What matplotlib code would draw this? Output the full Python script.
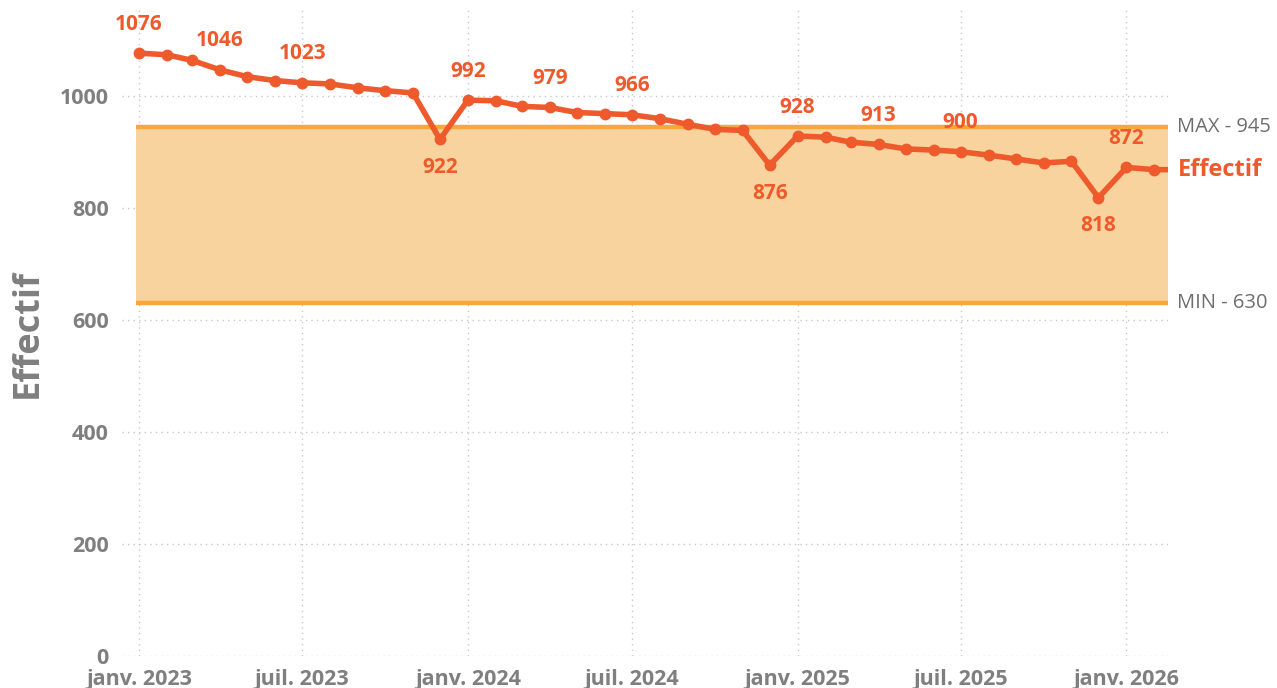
import pandas as pd
import matplotlib
matplotlib.use('Agg')
import matplotlib.pyplot as plt

plt.rcParams['font.family'] = ['Open Sans', 'DejaVu Sans']

# Monthly headcount, janv. 2023 -> mars 2026 (last one is cut by the axis)
months = pd.date_range('2023-01-01', '2026-03-01', freq='MS')
effectif = [1076, 1073, 1063, 1046, 1034, 1027, 1023, 1021, 1014, 1009, 1005, 922,
            992, 991, 981, 979, 970, 968, 966, 959, 949, 940, 938, 876,
            928, 926, 917, 913, 905, 903, 900, 894, 887, 880, 883, 818,
            872, 868, 868]
labelled = ['2023-01', '2023-04', '2023-07', '2023-12', '2024-01', '2024-04', '2024-07',
            '2024-12', '2025-01', '2025-04', '2025-07', '2025-12', '2026-01']
band_min = 630
band_max = 945
y_ticks = [0, 200, 400, 600, 800, 1000]
x_ticks = pd.date_range('2023-01-01', '2026-01-01', freq='6MS')
x_tick_labels = ['janv. 2023', 'juil. 2023', 'janv. 2024', 'juil. 2024',
                 'janv. 2025', 'juil. 2025', 'janv. 2026']

orange = '#EE5A2B'
band_line = '#F6A83A'
band_fill = '#F8D39D'
grey = '#7F7F7F'

df = pd.DataFrame({'mois': months, 'effectif': effectif})

fig = plt.figure(figsize=(12.77, 6.88), dpi=100)
ax = fig.add_axes([0.0955, 0.0465, 0.819, 0.939])

x_left = pd.Timestamp('2022-12-13')
x_right = pd.Timestamp('2026-02-16')
band_start = months[0] - pd.Timedelta(days=3)

# min / max band
ax.fill_between([band_start, x_right], band_min, band_max, color=band_fill, lw=0, zorder=1)
ax.hlines([band_min, band_max], band_start, x_right, colors=band_line, lw=3.2, zorder=2)

ax.plot(df['mois'], df['effectif'], color=orange, lw=4, marker='o', ms=7.5,
        zorder=3, clip_on=True)

# data labels: below for the december dips, above otherwise
vals = df['effectif'].tolist()
for i, row in df.iterrows():
    if row['mois'].strftime('%Y-%m') not in labelled:
        continue
    v = row['effectif']
    dip = 0 < i < len(vals) - 1 and v < vals[i - 1] and v < vals[i + 1]
    off = -28 if dip else 29
    ax.annotate(str(v), (row['mois'], v), xytext=(0, off), textcoords='offset pixels',
                ha='center', va='center', color=orange, fontsize=15, fontweight='bold',
                zorder=4)

# right side labels
ax.annotate(f'MAX - {band_max}', (1, band_max), xycoords=('axes fraction', 'data'),
            xytext=(9, 0), textcoords='offset pixels', ha='left', va='center',
            color='#6E6E6E', fontsize=14.5, annotation_clip=False)
ax.annotate(f'MIN - {band_min}', (1, band_min), xycoords=('axes fraction', 'data'),
            xytext=(9, 0), textcoords='offset pixels', ha='left', va='center',
            color='#6E6E6E', fontsize=14.5, annotation_clip=False)
ax.annotate('Effectif', (1, vals[-1]), xycoords=('axes fraction', 'data'),
            xytext=(10, 0), textcoords='offset pixels', ha='left', va='center',
            color=orange, fontsize=17, fontweight='bold', annotation_clip=False)

ax.set_xlim(x_left, x_right)
ax.set_ylim(0, 1153)
ax.set_yticks(y_ticks)
ax.set_xticks(x_ticks)
ax.set_xticklabels(x_tick_labels)
ax.tick_params(length=0, labelsize=15.5, labelcolor=grey)
ax.tick_params(axis='y', pad=9.5)
ax.tick_params(axis='x', pad=9)
for lab in ax.get_xticklabels() + ax.get_yticklabels():
    lab.set_fontweight('bold')

ax.grid(True, color='#C8C8C8', lw=1, linestyle=(0, (1, 3)))
ax.set_axisbelow(True)
for s in ax.spines.values():
    s.set_visible(False)

fig.text(28 / 1277, 1 - 333 / 688, 'Effectif', rotation=90, ha='center', va='center',
         color=grey, fontsize=26, fontweight='bold')

fig.savefig('out.png', dpi=100)
